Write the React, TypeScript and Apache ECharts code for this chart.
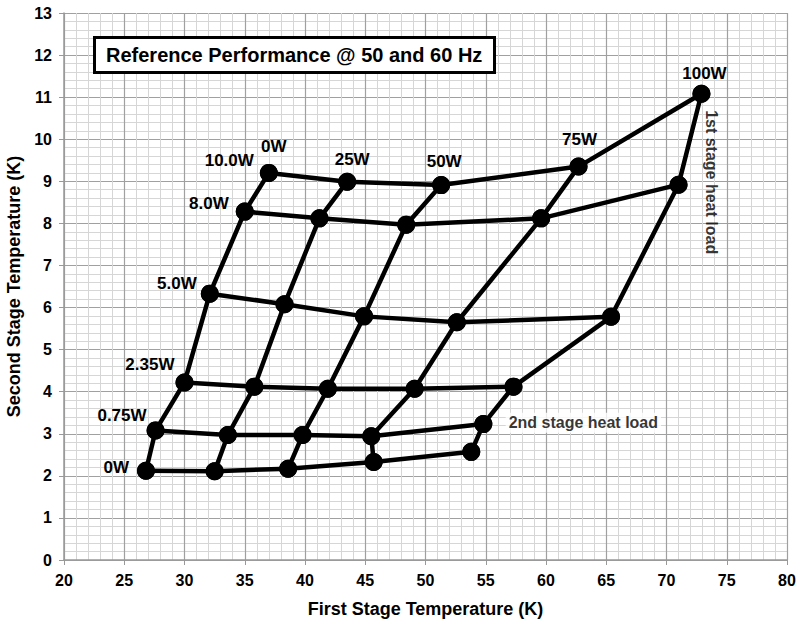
import React, { useEffect, useRef } from "react";
import * as echarts from "echarts";

// Second-stage heat load rows (each row: first-stage loads 0W,25W,50W,75W,100W)
const rowLoads = ["0W", "0.75W", "2.35W", "5.0W", "8.0W", "10.0W"];
const colLoads = ["0W", "25W", "50W", "75W", "100W"];

const t1_row0W = [26.8, 32.5, 38.6, 45.7, 53.8];
const t2_row0W = [2.12, 2.11, 2.17, 2.33, 2.57];
const t1_row075W = [27.6, 33.6, 39.8, 45.5, 54.8];
const t2_row075W = [3.08, 2.97, 2.97, 2.94, 3.23];
const t1_row235W = [30.0, 35.8, 41.9, 49.1, 57.3];
const t2_row235W = [4.22, 4.12, 4.07, 4.07, 4.12];
const t1_row5W = [32.1, 38.3, 44.9, 52.6, 65.4];
const t2_row5W = [6.33, 6.08, 5.79, 5.65, 5.78];
const t1_row8W = [35.0, 41.2, 48.4, 59.6, 71.0];
const t2_row8W = [8.28, 8.12, 7.97, 8.12, 8.92];
const t1_row10W = [37.0, 43.5, 51.3, 62.7, 72.9];
const t2_row10W = [9.2, 8.99, 8.91, 9.35, 11.08];

const rowsT1 = [t1_row0W, t1_row075W, t1_row235W, t1_row5W, t1_row8W, t1_row10W];
const rowsT2 = [t2_row0W, t2_row075W, t2_row235W, t2_row5W, t2_row8W, t2_row10W];

// label offsets (px) for the row labels (left) and column labels (top)
const rowLabelOffsets = [[-8, -3], [0, -15], [-1, -18], [-4, -10], [-7, -8], [-6, -12]];
const colLabelOffsets = [[5, -9], [5, -5], [3, -6], [1, -10], [3, -3]];

const annotationTexts = ["1st stage heat load", "2nd stage heat load"];
const annotationX = [73.75, 63.1];
const annotationY = [8.98, 3.26];
const annotationRotate = [-90, 0];

const xTicks = { min: 20, max: 80, interval: 5 };
const yTicks = { min: 0, max: 13, interval: 1 };

const FONT = "'Liberation Sans', Arial, sans-serif";

export default function App() {
  const ref = useRef<HTMLDivElement>(null);
  useEffect(() => {
    if (!ref.current) return;
    const chart = echarts.init(ref.current, null, { renderer: "svg" });

    const lineStyle = { color: "#000", width: 4.5 };
    const labelFont = { color: "#000", fontFamily: FONT, fontWeight: "bold" as const, fontSize: 17 };

    const rowSeries = rowsT1.map((xs, r) => ({
      type: "line",
      name: "row" + r,
      symbol: "circle",
      symbolSize: 18,
      itemStyle: { color: "#000" },
      lineStyle,
      z: 3,
      data: xs.map((x, c) => {
        const item: any = { value: [x, rowsT2[r][c]] };
        if (c === 0) {
          item.label = {
            show: true,
            position: "left",
            distance: 0,
            offset: rowLabelOffsets[r],
            formatter: rowLoads[r],
            ...labelFont,
          };
        }
        return item;
      }),
    }));

    const colSeries = colLoads.map((name, c) => ({
      type: "line",
      name: "col" + c,
      symbol: "circle",
      symbolSize: 18,
      itemStyle: { color: "#000" },
      lineStyle,
      z: 3,
      data: rowsT1.map((xs, r) => {
        const item: any = { value: [xs[c], rowsT2[r][c]] };
        if (r === rowsT1.length - 1) {
          item.label = {
            show: true,
            position: "top",
            distance: 0,
            offset: colLabelOffsets[c],
            formatter: name,
            ...labelFont,
          };
        }
        return item;
      }),
    }));

    const annSeries = {
      type: "scatter",
      symbolSize: 1,
      itemStyle: { color: "rgba(0,0,0,0)" },
      z: 4,
      data: annotationTexts.map((t, i) => ({
        value: [annotationX[i], annotationY[i]],
        label: {
          show: true,
          position: "inside",
          formatter: t,
          rotate: annotationRotate[i],
          color: "#000",
          fontFamily: FONT,
          fontWeight: "bold",
          fontSize: 16,
          backgroundColor: i === 1 ? "#fff" : "transparent",
          padding: i === 1 ? [2, 3] : 0,
        },
      })),
    };

    const axisLabel = { color: "#000", fontFamily: FONT, fontWeight: "bold", fontSize: 16 };
    const nameStyle = { color: "#000", fontFamily: FONT, fontWeight: "bold", fontSize: 18 };

    chart.setOption({
      animation: false,
      backgroundColor: "#fff",
      title: {
        text: "Reference Performance @ 50 and 60 Hz",
        left: 94,
        top: 37,
        borderColor: "#000",
        borderWidth: 3,
        backgroundColor: "#fff",
        padding: [8, 12],
        textStyle: { color: "#000", fontFamily: FONT, fontWeight: "bold", fontSize: 20 },
      },
      grid: { left: 64, right: 9, top: 13, bottom: 65, outerBoundsMode: "none", containLabel: false },
      xAxis: {
        type: "value",
        ...xTicks,
        name: "First Stage Temperature (K)",
        nameLocation: "middle",
        nameGap: 40,
        nameTextStyle: nameStyle,
        axisLine: { lineStyle: { color: "#999", width: 1.5 } },
        axisTick: { show: true, length: 5, lineStyle: { color: "#999" } },
        axisLabel: { ...axisLabel, margin: 12 },
        splitLine: { show: true, lineStyle: { color: "#a0a0a0", width: 1.2 } },
        minorTick: { show: false, splitNumber: 5 },
        minorSplitLine: { show: true, lineStyle: { color: "#d6d6d6", width: 1 } },
      },
      yAxis: {
        type: "value",
        ...yTicks,
        name: "Second Stage Temperature (K)",
        nameLocation: "middle",
        nameGap: 38,
        nameTextStyle: nameStyle,
        axisLine: { show: true, lineStyle: { color: "#999", width: 1.5 } },
        axisTick: { show: true, length: 5, lineStyle: { color: "#999" } },
        axisLabel: { ...axisLabel, margin: 12 },
        splitLine: { show: true, lineStyle: { color: "#a0a0a0", width: 1.2 } },
        minorTick: { show: false, splitNumber: 5 },
        minorSplitLine: { show: true, lineStyle: { color: "#d6d6d6", width: 1 } },
      },
      series: [...rowSeries, ...colSeries, annSeries],
    });

    return () => chart.dispose();
  }, []);
  return <div ref={ref} style={{ width: 796, height: 625, position: "absolute", left: 0, top: 0 }} />;
}
